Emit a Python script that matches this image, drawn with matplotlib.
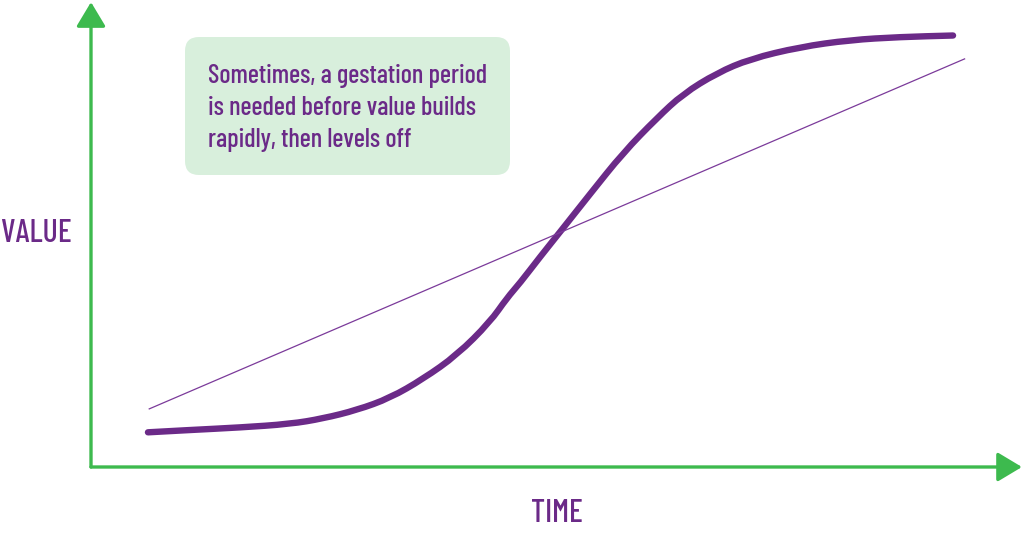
import matplotlib
matplotlib.use("Agg")
import matplotlib.pyplot as plt
from matplotlib.patches import FancyBboxPatch, PathPatch
from matplotlib.path import Path
from matplotlib.transforms import IdentityTransform

# S-curve (time, value)
curve_time = [0.626, 1.088, 1.637, 2.187, 2.549, 2.923, 3.286, 3.648, 4.022,
              4.385, 4.571, 4.714, 4.934, 5.154, 5.484, 5.846, 6.220,
              6.505, 6.879, 7.242, 7.791, 8.341, 8.890, 9.473]
curve_value = [0.776, 0.828, 0.884, 0.962, 1.085, 1.275, 1.544, 1.969, 2.506,
               3.244, 3.781, 4.116, 4.698, 5.257, 6.107, 7.025, 7.808,
               8.345, 8.814, 9.128, 9.396, 9.553, 9.620, 9.653]

# linear reference line
line_time = [0.64, 9.60]
line_value = [1.30, 9.13]

note_lines = ["Sometimes, a gestation period",
              "is needed before value builds",
              "rapidly, then levels off"]
x_label = "TIME"
y_label = "VALUE"

green = "#3dba4e"
purple = "#6b2a88"
box_green = "#d8efdc"
fam = ["Barlow Condensed", "DejaVu Sans"]

fig = plt.figure(figsize=(10.24, 5.36), dpi=100)
ax = fig.add_axes([91 / 1024, 69 / 536, 910 / 1024, 447 / 536])
ax.set_xlim(0, 10)
ax.set_ylim(0, 10)
ax.axis("off")

# axes with arrow heads
arrow = dict(arrowstyle="-|>,head_length=1.0,head_width=0.6", color=green,
             lw=2.4, shrinkA=0, shrinkB=0, mutation_scale=15)
ax.annotate("", xy=(0, 1.04), xytext=(0, 0), xycoords="axes fraction",
            arrowprops=arrow, annotation_clip=False)
ax.annotate("", xy=(1.023, 0), xytext=(0, 0), xycoords="axes fraction",
            arrowprops=arrow, annotation_clip=False)

ax.plot(line_time, line_value, color="#7b3a9a", lw=0.9, clip_on=False)

# smooth the read points with quadratic segments between midpoints
pts = list(zip(curve_time, curve_value))
verts = [pts[0]]
codes = [Path.MOVETO]
for i in range(1, len(pts) - 1):
    mid = ((pts[i][0] + pts[i + 1][0]) / 2, (pts[i][1] + pts[i + 1][1]) / 2)
    verts += [pts[i], mid]
    codes += [Path.CURVE3, Path.CURVE3]
verts.append(pts[-1])
codes.append(Path.LINETO)
ax.add_patch(PathPatch(Path(verts, codes), facecolor="none", edgecolor=purple,
                       lw=4.6, capstyle="round", joinstyle="round",
                       clip_on=False))

# note box (pixel coords, origin bottom-left)
box = FancyBboxPatch((185, 536 - 175), 325, 138,
                     boxstyle="round,pad=0,rounding_size=14",
                     transform=IdentityTransform(), facecolor=box_green,
                     edgecolor="none", zorder=1)
fig.patches.append(box)

for i, txt in enumerate(note_lines):
    fig.text(208 / 1024, 1 - (83 + 32 * i) / 536, txt, color=purple,
             fontsize=19, family=fam, fontweight="medium",
             va="baseline", ha="left", zorder=3)

fig.text(1 / 1024, 1 - 234 / 536, y_label, color=purple, fontsize=23,
         family=fam, fontweight="medium", va="center", ha="left")
fig.text(557 / 1024, 1 - 513 / 536, x_label, color=purple, fontsize=23,
         family=fam, fontweight="medium", va="center", ha="center")

fig.savefig("out.png", dpi=100)
